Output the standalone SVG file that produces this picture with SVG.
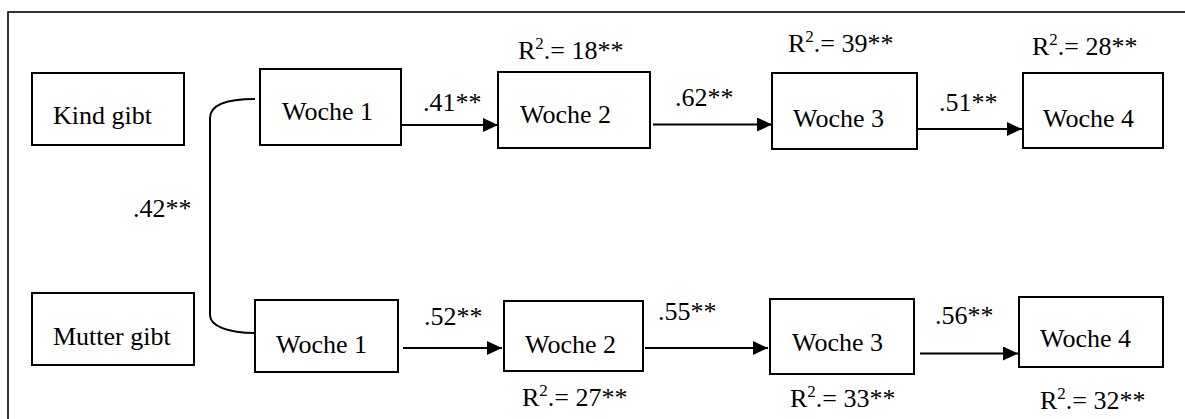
<svg xmlns="http://www.w3.org/2000/svg" width="1185" height="419" viewBox="0 0 1185 419">
<style>
.box{fill:#fff;stroke:#000;stroke-width:2}
.t{font-family:"Liberation Serif","Times New Roman",serif;font-size:26px;fill:#000}
.s{font-size:17px}
.c{fill:none;stroke:#000;stroke-width:2}
.a{fill:none;stroke:#000;stroke-width:2;marker-end:url(#ah)}
</style>
<defs>
<marker id="ah" markerUnits="userSpaceOnUse" markerWidth="16" markerHeight="16" refX="15" refY="7" orient="auto">
<path d="M0,0 L15,7 L0,14 Z" fill="#000"/>
</marker>
</defs>
<rect x="0" y="0" width="1185" height="419" fill="#fff"/>
<rect x="8" y="12" width="1200" height="430" fill="none" stroke="#000" stroke-width="1.6"/>
<g id="connectors">
<path class="c" d="M255,99 C228,99 210,104 210,118 L210,315 C210,326 228,333 255,333"/>
<path class="a" d="M402,125 L498,125"/>
<path class="a" d="M653,124.5 L772,124.5"/>
<path class="a" d="M917,129 L1022,129"/>
<path class="a" d="M403,348 L502,348"/>
<path class="a" d="M645,348 L768,348"/>
<path class="a" d="M920,353.5 L1018,353.5"/>
<text class="t" x="133" y="217">.42**</text>
<text class="t" x="423" y="111">.41**</text>
<text class="t" x="675" y="106">.62**</text>
<text class="t" x="939" y="111">.51**</text>
<text class="t" x="424" y="325">.52**</text>
<text class="t" x="658" y="320">.55**</text>
<text class="t" x="935" y="324">.56**</text>
</g>
<g id="kind">
<rect class="box" x="32" y="73" width="152" height="72"/>
<text class="t" x="53" y="124">Kind gibt</text>
</g>
<g id="k1">
<rect class="box" x="260" y="69" width="141" height="76"/>
<text class="t" x="282" y="120">Woche 1</text>
</g>
<g id="k2">
<rect class="box" x="498" y="72" width="152" height="76"/>
<text class="t" x="520" y="123">Woche 2</text>
<text class="t" x="518" y="59">R<tspan class="s" dy="-10">2</tspan><tspan dy="10">.= 18**</tspan></text>
</g>
<g id="k3">
<rect class="box" x="772" y="73" width="145" height="76"/>
<text class="t" x="793" y="127">Woche 3</text>
<text class="t" x="788" y="52">R<tspan class="s" dy="-10">2</tspan><tspan dy="10">.= 39**</tspan></text>
</g>
<g id="k4">
<rect class="box" x="1023" y="73" width="140" height="75"/>
<text class="t" x="1043" y="127">Woche 4</text>
<text class="t" x="1032" y="55">R<tspan class="s" dy="-10">2</tspan><tspan dy="10">.= 28**</tspan></text>
</g>
<g id="mutter">
<rect class="box" x="32" y="293" width="162" height="72"/>
<text class="t" x="53" y="345">Mutter gibt</text>
</g>
<g id="m1">
<rect class="box" x="255" y="300" width="143" height="72"/>
<text class="t" x="276" y="353">Woche 1</text>
</g>
<g id="m2">
<rect class="box" x="504" y="301" width="139" height="70"/>
<text class="t" x="525" y="353">Woche 2</text>
<text class="t" x="522" y="406">R<tspan class="s" dy="-10">2</tspan><tspan dy="10">.= 27**</tspan></text>
</g>
<g id="m3">
<rect class="box" x="770" y="299" width="144" height="75"/>
<text class="t" x="792" y="351">Woche 3</text>
<text class="t" x="790" y="407">R<tspan class="s" dy="-10">2</tspan><tspan dy="10">.= 33**</tspan></text>
</g>
<g id="m4">
<rect class="box" x="1019" y="297" width="144" height="70"/>
<text class="t" x="1040" y="347">Woche 4</text>
<text class="t" x="1040" y="409">R<tspan class="s" dy="-10">2</tspan><tspan dy="10">.= 32**</tspan></text>
</g>
</svg>
